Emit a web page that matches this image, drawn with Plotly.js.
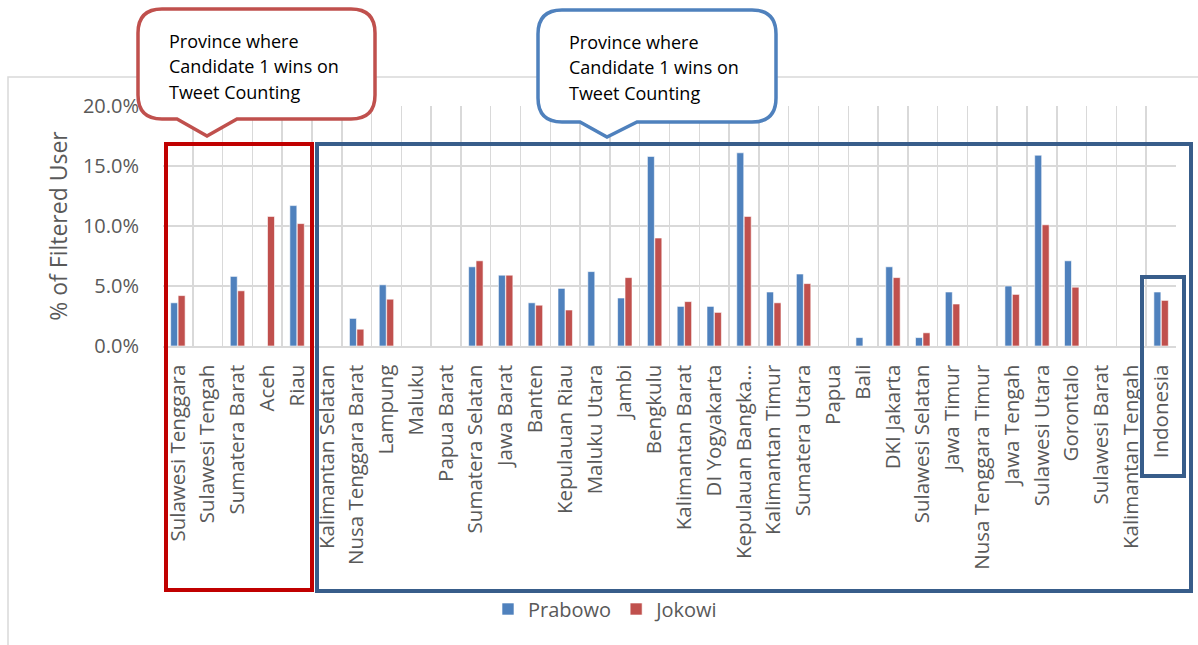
<!DOCTYPE html>
<html>
<head>
<meta charset="utf-8">
<script src="https://cdn.plot.ly/plotly-3.0.1.min.js"></script>
<style>
  html, body { margin: 0; padding: 0; background: #ffffff; }
  #chart { width: 1198px; height: 645px; }
</style>
</head>
<body>
<div id="chart"></div>
<script>
// Provinces, in display order
const provinces = [
  "Sulawesi Tenggara", "Sulawesi Tengah", "Sumatera Barat", "Aceh", "Riau",
  "Kalimantan Selatan", "Nusa Tenggara Barat", "Lampung", "Maluku", "Papua Barat",
  "Sumatera Selatan", "Jawa Barat", "Banten", "Kepulauan Riau", "Maluku Utara",
  "Jambi", "Bengkulu", "Kalimantan Barat", "DI Yogyakarta", "Kepulauan Bangka...",
  "Kalimantan Timur", "Sumatera Utara", "Papua", "Bali", "DKI Jakarta",
  "Sulawesi Selatan", "Jawa Timur", "Nusa Tenggara Timur", "Jawa Tengah", "Sulawesi Utara",
  "Gorontalo", "Sulawesi Barat", "Kalimantan Tengah", "Indonesia"
];

// Share of filtered users (%) per province
const prabowo = [
  3.6, null, 5.8, null, 11.7,
  null, 2.3, 5.1, null, null,
  6.6, 5.9, 3.6, 4.8, 6.2,
  4.0, 15.8, 3.3, 3.3, 16.1,
  4.5, 6.0, null, 0.7, 6.6,
  0.7, 4.5, null, 5.0, 15.9,
  7.1, null, null, 4.5
];
const jokowi = [
  4.2, null, 4.6, 10.8, 10.2,
  null, 1.4, 3.9, null, null,
  7.1, 5.9, 3.4, 3.0, null,
  5.7, 9.0, 3.7, 2.8, 10.8,
  3.6, 5.2, null, null, 5.7,
  1.1, 3.5, null, 4.3, 10.1,
  4.9, null, null, 3.8
];

const seriesNames = ["Prabowo", "Jokowi"];
const calloutLines = ["Province where", "Candidate 1 wins on", "Tweet Counting"];
const yTicks = [0, 5, 10, 15, 20];
const yTickText = ["0.0%", "5.0%", "10.0%", "15.0%", "20.0%"];

// Plot frame in pixels (used to place the decorative shapes)
const W = 1198, H = 645;
const M = { l: 163, r: 22, t: 106, b: 299 };
const PW = W - M.l - M.r, PH = H - M.t - M.b;
const fx = px => (px - M.l) / PW;
const fy = py => (H - M.b - py) / PH;
const pt = (x, y) => fx(x).toFixed(5) + "," + fy(y).toFixed(5);

function rectShape(x0, y0, x1, y1, color, width) {
  return {
    type: "rect", xref: "paper", yref: "paper",
    x0: fx(x0), x1: fx(x1), y0: fy(y1), y1: fy(y0),
    line: { color: color, width: width }, fillcolor: "rgba(0,0,0,0)"
  };
}

// Rounded speech bubble with a downward pointer
function calloutShape(x0, y0, x1, y1, r, baseL, tipX, tipY, baseR, color) {
  const d = [
    "M", pt(x0 + r, y0),
    "L", pt(x1 - r, y0),
    "Q", pt(x1, y0), pt(x1, y0 + r),
    "L", pt(x1, y1 - r),
    "Q", pt(x1, y1), pt(x1 - r, y1),
    "L", pt(baseR, y1),
    "L", pt(tipX, tipY),
    "L", pt(baseL, y1),
    "L", pt(x0 + r, y1),
    "Q", pt(x0, y1), pt(x0, y1 - r),
    "L", pt(x0, y0 + r),
    "Q", pt(x0, y0), pt(x0 + r, y0),
    "Z"
  ].join(" ");
  return {
    type: "path", xref: "paper", yref: "paper", path: d,
    line: { color: color, width: 3.5 }, fillcolor: "#ffffff"
  };
}

function calloutText(left, tops) {
  return calloutLines.map((t, i) => ({
    xref: "paper", yref: "paper",
    x: fx(left), y: fy(tops[i]),
    xanchor: "left", yanchor: "middle",
    text: t, showarrow: false,
    font: { family: "Open Sans", size: 18, color: "#000000" }
  }));
}

const traces = [
  {
    type: "bar", name: seriesNames[0], x: provinces, y: prabowo,
    marker: { color: "#4F81BD", line: { color: "#ffffff", width: 0.6 } },
    hoverinfo: "x+y+name"
  },
  {
    type: "bar", name: seriesNames[1], x: provinces, y: jokowi,
    marker: { color: "#C0504D", line: { color: "#ffffff", width: 0.6 } },
    hoverinfo: "x+y+name"
  }
];

const gray = "#595959";
const layout = {
  width: W, height: H,
  margin: M,
  paper_bgcolor: "#ffffff",
  plot_bgcolor: "#ffffff",
  barmode: "group",
  bargap: 0.5,
  bargroupgap: 0.06,
  font: { family: "Open Sans", color: gray },
  showlegend: true,
  legend: {
    orientation: "h",
    x: fx(606), xanchor: "center",
    y: fy(609), yanchor: "middle",
    bgcolor: "rgba(0,0,0,0)",
    font: { family: "Open Sans", size: 20, color: gray },
    itemclick: false
  },
  xaxis: {
    type: "category",
    tickangle: -90,
    tickson: "boundaries",
    showgrid: true, gridcolor: "#D9D9D9", gridwidth: 1.5,
    showline: true, linecolor: "#D9D9D9", linewidth: 1.5,
    ticks: "",
    ticklabelstandoff: 9,
    tickfont: { family: "Open Sans", size: 20.5, color: gray },
    fixedrange: true
  },
  yaxis: {
    range: [0, 20],
    tickvals: yTicks, ticktext: yTickText,
    showgrid: true, gridcolor: "#D9D9D9", gridwidth: 1.5,
    zeroline: false, showline: false,
    ticks: "outside", ticklen: 19, tickcolor: "rgba(0,0,0,0)",
    tickfont: { family: "Open Sans", size: 20, color: gray },
    title: {
      text: "% of Filtered User",
      font: { family: "Open Sans", size: 23, color: gray },
      standoff: 8
    },
    fixedrange: true
  },
  shapes: [
    // chart area border
    rectShape(8, 77, 1215, 665, "#D9D9D9", 1.5),
    // grouping frames
    rectShape(166, 144, 312, 590, "#C00000", 4),
    rectShape(317, 144, 1191, 591, "#385D8A", 4),
    rectShape(1142, 277, 1184, 476, "#385D8A", 4),
    // speech bubbles
    calloutShape(138, 9, 375, 119, 24, 177, 207, 136, 237, "#C0504D"),
    calloutShape(538, 10, 776, 122, 24, 580, 607, 137, 637, "#4F81BD")
  ],
  annotations: [].concat(
    calloutText(167, [41, 66, 92]),
    calloutText(567, [42, 67, 93])
  )
};

Plotly.newPlot("chart", traces, layout, { displayModeBar: false, staticPlot: true });
</script>
</body>
</html>
